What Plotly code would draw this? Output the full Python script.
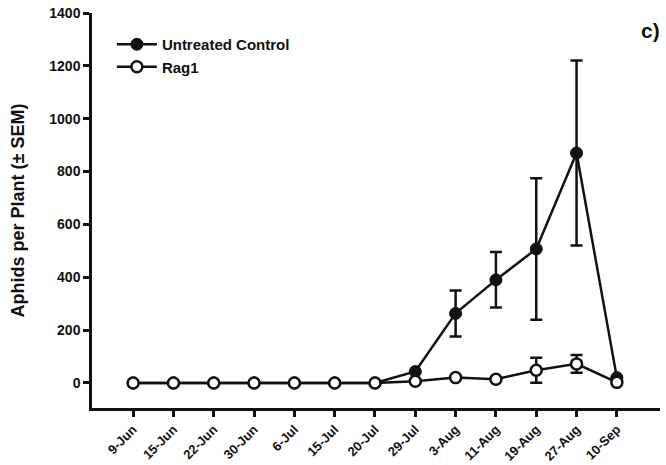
import plotly.graph_objects as go

dates = ["9-Jun", "15-Jun", "22-Jun", "30-Jun", "6-Jul", "15-Jul", "20-Jul",
         "29-Jul", "3-Aug", "11-Aug", "19-Aug", "27-Aug", "10-Sep"]
control = [0, 0, 0, 0, 0, 0, 0, 43, 263, 390, 507, 870, 20]
control_sem = [0, 0, 0, 0, 0, 0, 0, 0, 87, 105, 268, 350, 0]
rag1 = [0, 0, 0, 0, 0, 0, 0, 6, 20, 14, 48, 72, 2]
rag1_sem = [0, 0, 0, 0, 0, 0, 0, 0, 0, 0, 47, 34, 0]

xi = list(range(len(dates)))
font_family = "Liberation Sans, Arial, sans-serif"
ink = "#111111"

fig = go.Figure()
fig.add_trace(go.Scatter(
    x=xi, y=control, name="<b>Untreated Control</b>", mode="lines+markers",
    line=dict(color=ink, width=2.5),
    marker=dict(symbol="circle", size=12, color=ink, line=dict(color=ink, width=1)),
    error_y=dict(type="data", array=control_sem, visible=True, color=ink, thickness=2.5, width=6),
))
fig.add_trace(go.Scatter(
    x=xi, y=rag1, name="<b>Rag1</b>", mode="lines+markers",
    line=dict(color=ink, width=2.5),
    marker=dict(symbol="circle", size=11, color="white", line=dict(color=ink, width=2.5)),
    error_y=dict(type="data", array=rag1_sem, visible=True, color=ink, thickness=2.5, width=6),
))

pw, ph = 666 - 92 - 6, 465 - 13 - 57

fig.update_layout(
    width=666, height=465,
    margin=dict(l=92, r=6, t=13, b=57),
    paper_bgcolor="white", plot_bgcolor="white",
    font=dict(family=font_family, color=ink),
    showlegend=True,
    legend=dict(x=0.035, y=0.962, xanchor="left", yanchor="top",
                font=dict(size=15, family=font_family, color=ink),
                bgcolor="rgba(0,0,0,0)", tracegroupgap=0, itemwidth=40),
    xaxis=dict(
        range=[-1.02, 13.07], tickmode="array", tickvals=xi,
        ticktext=["<b>%s</b>" % d for d in dates], tickangle=-45,
        showline=True, linecolor=ink, linewidth=2.5,
        ticks="outside", ticklen=6, tickwidth=2.5, tickcolor=ink,
        showgrid=False, zeroline=False, automargin=False,
        tickfont=dict(size=13, family=font_family, color=ink),
    ),
    yaxis=dict(
        range=[-95, 1400], tickmode="array", tickvals=list(range(0, 1401, 200)),
        ticktext=["<b>%d</b>" % v for v in range(0, 1401, 200)],
        showline=True, linecolor=ink, linewidth=2.5,
        ticks="outside", ticklen=6, tickwidth=2.5, tickcolor=ink,
        showgrid=False, zeroline=False, automargin=False,
        tickfont=dict(size=14, family=font_family, color=ink),
        title=dict(text="<b>Aphids per Plant (± SEM)</b>",
                   font=dict(size=18, family=font_family, color=ink), standoff=20),
    ),
    annotations=[dict(text="<b>c)</b>", x=(650 - 92) / pw, y=(465 - 57 - 30) / ph,
                      xref="paper", yref="paper",
                      showarrow=False, xanchor="center", yanchor="middle",
                      font=dict(size=21, family=font_family, color=ink))],
)

fig.write_html("out.html")
